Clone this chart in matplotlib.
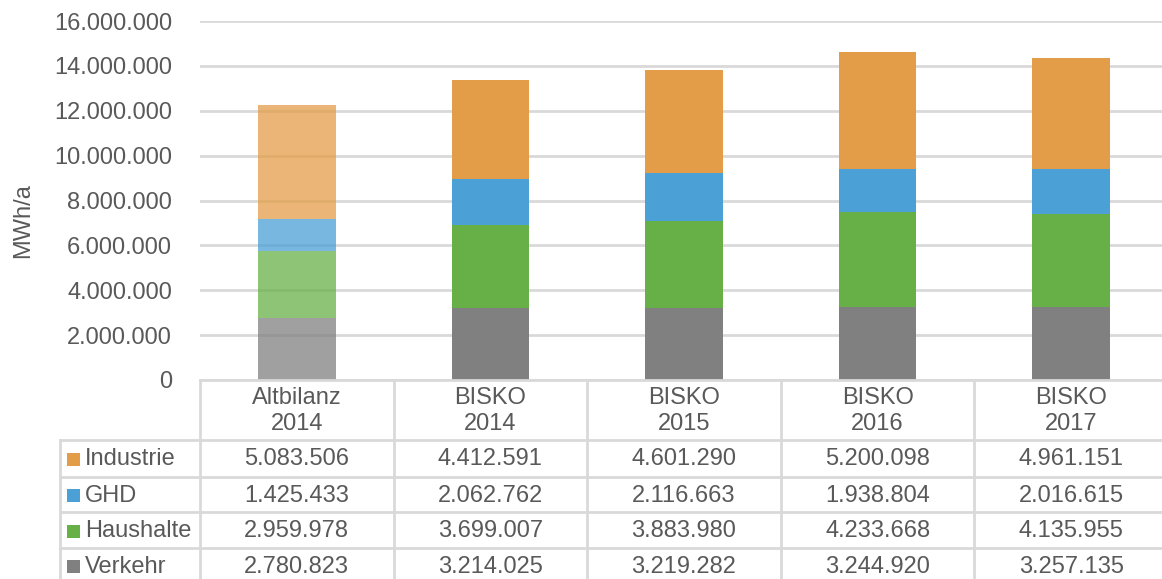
import matplotlib
matplotlib.use("Agg")
import matplotlib.pyplot as plt
import numpy as np

plt.rcParams["font.family"] = ["Liberation Sans", "DejaVu Sans"]

categories = ["Altbilanz\n2014", "BISKO\n2014", "BISKO\n2015", "BISKO\n2016", "BISKO\n2017"]
series_names = ["Industrie", "GHD", "Haushalte", "Verkehr"]
industrie = [5083506, 4412591, 4601290, 5200098, 4961151]
ghd = [1425433, 2062762, 2116663, 1938804, 2016615]
haushalte = [2959978, 3699007, 3883980, 4233668, 4135955]
verkehr = [2780823, 3214025, 3219282, 3244920, 3257135]
colors = {"Industrie": "#E39D48", "GHD": "#4BA0D6", "Haushalte": "#67B047", "Verkehr": "#808080"}
y_ticks = [0, 2000000, 4000000, 6000000, 8000000, 10000000, 12000000, 14000000, 16000000]

values = {"Industrie": industrie, "GHD": ghd, "Haushalte": haushalte, "Verkehr": verkehr}
stack_order = ["Verkehr", "Haushalte", "GHD", "Industrie"]

W, H = 1162, 579
fig = plt.figure(figsize=(W / 100, H / 100), dpi=100)
text_col = "#595959"
grid_col = "#d9d9d9"
fs = 17


def fmt(v):
    return f"{v:,.0f}".replace(",", ".")


# Chart area in pixel geometry
x0, x1 = 200, 1168
y_top, y_zero = 21, 380
ax = fig.add_axes([x0 / W, (H - y_zero) / H, (x1 - x0) / W, (y_zero - y_top) / H])
n = len(categories)
x = np.arange(n)
bottom = np.zeros(n)
for name in stack_order:
    vals = np.array(values[name])
    for i in range(n):
        ax.bar(x[i], vals[i], bottom=bottom[i], width=0.4, color=colors[name],
               alpha=0.75 if i == 0 else 1.0, linewidth=0, zorder=3)
    bottom += vals

ax.set_xlim(-0.5, n - 0.5)
ax.set_ylim(0, 16000000)
ax.set_yticks(y_ticks)
ax.set_yticklabels([fmt(v) for v in y_ticks], color=text_col, fontsize=fs)
ax.tick_params(axis="y", length=0, pad=20)
ax.set_xticks([])
ax.grid(axis="y", color=grid_col, linewidth=2, zorder=0)
for s in ax.spines.values():
    s.set_visible(False)

# Data table below the chart
tab = fig.add_axes([0, 0, 1, 1])
tab.set_xlim(0, W)
tab.set_ylim(H, 0)
tab.axis("off")

# axis title
tab.text(23, 221, "MWh/a", rotation=90, ha="center", va="center", color=text_col, fontsize=fs)

col_edges = [x0 + i * (x1 - x0) / n for i in range(n + 1)]
row_edges = [380, 440, 476.7, 512.3, 547.8, 583.4]
leg_left = 60
lw = 2

# horizontal lines
tab.plot([x0, x1], [row_edges[0]] * 2, color=grid_col, lw=lw)
for yy in row_edges[1:]:
    tab.plot([leg_left, x1], [yy] * 2, color=grid_col, lw=lw)
# vertical lines
tab.plot([leg_left] * 2, [row_edges[1], row_edges[-1]], color=grid_col, lw=lw)
for xx in col_edges:
    tab.plot([xx] * 2, [row_edges[0], row_edges[-1]], color=grid_col, lw=lw)

# header
for i, c in enumerate(categories):
    cx = (col_edges[i] + col_edges[i + 1]) / 2
    tab.text(cx, (row_edges[0] + row_edges[1]) / 2 + 1, c, ha="center", va="center",
             color=text_col, fontsize=fs, linespacing=1.2)

# rows
for r, name in enumerate(series_names):
    cy = (row_edges[r + 1] + row_edges[r + 2]) / 2 + 1
    tab.add_patch(plt.Rectangle((67, cy - 6.5), 13, 13, color=colors[name], lw=0))
    tab.text(85, cy, name, ha="left", va="center", color=text_col, fontsize=fs)
    for i in range(n):
        cx = (col_edges[i] + col_edges[i + 1]) / 2
        tab.text(cx, cy, fmt(values[name][i]), ha="center", va="center",
                 color=text_col, fontsize=fs)

fig.savefig("out.png", dpi=100)
